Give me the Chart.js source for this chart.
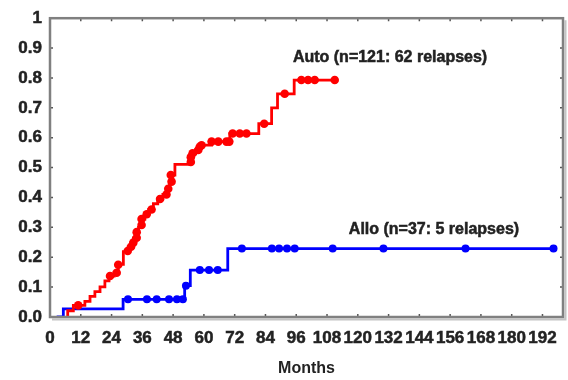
<!DOCTYPE html>
<html>
<head>
<meta charset="utf-8">
<script src="https://cdn.jsdelivr.net/npm/chart.js@4/dist/chart.umd.min.js"></script>
<style>
  body { margin: 0; background: #fff; }
  #wrap { width: 568px; height: 380px; }
</style>
</head>
<body>
<div id="wrap"><canvas id="chart" width="568" height="380"></canvas></div>
<script>
// months where the curve steps, and the cumulative value after the step
const autoStepMonths = [6.8, 6.9, 9.1, 13.6, 15.6, 17.5, 19.5, 21.4, 23.0, 25.0, 26.6, 28.6, 30.5, 31.5, 32.5, 33.5, 34.5, 35.7, 37.0, 38.5, 40.3, 42.0, 44.0, 45.6, 46.6, 47.2, 48.7, 54.5, 55.2, 56.8, 58.0, 63.0, 70.1, 81.4, 86.4, 88.7, 95.2, 111.0];
const autoStepValues = [0, 0.021, 0.039, 0.052, 0.069, 0.085, 0.101, 0.121, 0.137, 0.150, 0.176, 0.219, 0.235, 0.249, 0.265, 0.284, 0.300, 0.328, 0.344, 0.360, 0.379, 0.395, 0.410, 0.430, 0.453, 0.475, 0.511, 0.525, 0.546, 0.560, 0.575, 0.587, 0.614, 0.647, 0.700, 0.747, 0.793, 0.793];
const autoDotMonths = [11.0, 23.4, 26.0, 26.6, 30.3, 31.6, 32.5, 33.8, 33.8, 35.7, 35.7, 37.7, 39.6, 42.9, 45.4, 46.1, 47.4, 47.1, 54.9, 54.9, 55.6, 57.8, 58.4, 59.1, 63.0, 65.6, 68.8, 69.9, 71.2, 74.0, 76.6, 83.5, 91.5, 98.0, 100.6, 103.2, 111.0];
const autoDotValues = [0.039, 0.137, 0.148, 0.175, 0.221, 0.235, 0.249, 0.265, 0.284, 0.308, 0.328, 0.344, 0.360, 0.395, 0.410, 0.429, 0.453, 0.475, 0.519, 0.535, 0.548, 0.559, 0.570, 0.575, 0.587, 0.587, 0.587, 0.587, 0.614, 0.614, 0.614, 0.647, 0.747, 0.793, 0.793, 0.793, 0.793];

const alloStepMonths = [2.6, 5.2, 28.5, 52.5, 54.7, 69.3, 196.3];
const alloStepValues = [0, 0.027, 0.059, 0.105, 0.157, 0.229, 0.229];
const alloDotMonths = [30.4, 37.8, 41.6, 46.4, 49.5, 51.8, 53.0, 58.4, 62.0, 65.4, 74.8, 86.5, 89.3, 92.4, 95.4, 110.2, 130.0, 162.0, 196.3];
const alloDotValues = [0.059, 0.059, 0.059, 0.059, 0.059, 0.059, 0.105, 0.157, 0.157, 0.157, 0.229, 0.229, 0.229, 0.229, 0.229, 0.229, 0.229, 0.229, 0.229];

const xTitle = 'Months';
const labels = [
  { text: 'Auto (n=121: 62 relapses)', x: 94.7, y: 0.869 },
  { text: 'Allo (n=37: 5 relapses)', x: 116.5, y: 0.291 },
];

const RED = '#ff0000';
const BLUE = '#0000ff';
const INK = '#222';
const FONT = "'Liberation Sans', Arial, sans-serif";

function toPoints(xs, ys) {
  return xs.map((x, i) => ({ x, y: ys[i] }));
}

// frame with small inward ticks on all four sides
const framePlugin = {
  id: 'frame',
  afterDatasetsDraw(chart) {
    const { ctx, chartArea: a, scales } = chart;
    ctx.save();
    ctx.strokeStyle = '#555';
    ctx.lineWidth = 1.5;
    scales.x.ticks.forEach((t) => {
      const px = scales.x.getPixelForValue(t.value);
      if (px <= a.left + 2) return;
      ctx.beginPath();
      ctx.moveTo(px, a.bottom); ctx.lineTo(px, a.bottom - 3);
      ctx.moveTo(px, a.top); ctx.lineTo(px, a.top + 3);
      ctx.stroke();
    });
    scales.y.ticks.forEach((t) => {
      const py = scales.y.getPixelForValue(t.value);
      if (py >= a.bottom - 2 || py <= a.top + 2) return;
      ctx.beginPath();
      ctx.moveTo(a.left, py); ctx.lineTo(a.left + 3, py);
      ctx.moveTo(a.right, py); ctx.lineTo(a.right - 3, py);
      ctx.stroke();
    });
    // soft shadow on right and bottom
    ctx.strokeStyle = '#c4c4c4';
    ctx.lineWidth = 2;
    ctx.beginPath();
    ctx.moveTo(a.left + 2, a.bottom + 2.5);
    ctx.lineTo(a.right + 2.5, a.bottom + 2.5);
    ctx.lineTo(a.right + 2.5, a.top + 2);
    ctx.stroke();
    ctx.strokeStyle = '#808080';
    ctx.lineWidth = 2.5;
    ctx.strokeRect(a.left, a.top, a.right - a.left, a.bottom - a.top);
    ctx.restore();
  },
};

const textPlugin = {
  id: 'curveLabels',
  afterDraw(chart) {
    const { ctx, scales } = chart;
    ctx.save();
    ctx.font = `bold 16px ${FONT}`;
    ctx.fillStyle = INK;
    ctx.strokeStyle = INK;
    ctx.lineWidth = 0.5;
    ctx.textAlign = 'left';
    ctx.textBaseline = 'middle';
    labels.forEach((l) => {
      const px = scales.x.getPixelForValue(l.x);
      const py = scales.y.getPixelForValue(l.y);
      ctx.fillText(l.text, px, py);
      ctx.strokeText(l.text, px, py);
    });
    ctx.restore();
  },
};

Chart.defaults.font.family = FONT;
Chart.defaults.font.weight = 'bold';
Chart.defaults.color = INK;

new Chart(document.getElementById('chart'), {
  type: 'scatter',
  data: {
    datasets: [
      {
        data: toPoints(autoStepMonths, autoStepValues),
        showLine: true,
        stepped: 'before',
        borderColor: RED,
        borderWidth: 2.8,
        pointRadius: 0,
      },
      {
        data: toPoints(autoDotMonths, autoDotValues),
        pointRadius: 4.3,
        pointBackgroundColor: RED,
        pointBorderWidth: 0,
      },
      {
        data: toPoints(alloStepMonths, alloStepValues),
        showLine: true,
        stepped: 'before',
        borderColor: BLUE,
        borderWidth: 2.8,
        pointRadius: 0,
      },
      {
        data: toPoints(alloDotMonths, alloDotValues),
        pointRadius: 4,
        pointBackgroundColor: BLUE,
        pointBorderWidth: 0,
      },
    ],
  },
  options: {
    responsive: false,
    animation: false,
    layout: { padding: { top: 11, right: 5, left: 0, bottom: 0 } },
    plugins: { legend: { display: false }, tooltip: { enabled: false } },
    scales: {
      x: {
        type: 'linear',
        min: 0,
        max: 200,
        grid: { display: false, drawTicks: false },
        border: { display: false },
        ticks: {
          stepSize: 12,
          includeBounds: false,
          padding: 11,
          maxRotation: 0,
          autoSkip: false,
          font: { size: 17, weight: 'bold' },
          color: INK,
          textStrokeColor: INK,
          textStrokeWidth: 0.5,
        },
        title: {
          display: true,
          text: xTitle,
          font: { size: 16, weight: 'bold' },
          color: INK,
          padding: { top: 4, bottom: 2 },
        },
        afterFit(scale) { scale.height = 63; },
      },
      y: {
        min: 0,
        max: 1,
        grid: { display: false, drawTicks: false },
        border: { display: false },
        ticks: {
          stepSize: 0.1,
          padding: 8,
          font: { size: 17, weight: 'bold' },
          color: INK,
          textStrokeColor: INK,
          textStrokeWidth: 0.5,
          callback: (v) => (Math.abs(v - 1) < 1e-9 ? '1' : v.toFixed(1)),
        },
        afterFit(scale) { scale.width = 50; },
      },
    },
  },
  plugins: [framePlugin, textPlugin],
});
</script>
</body>
</html>
